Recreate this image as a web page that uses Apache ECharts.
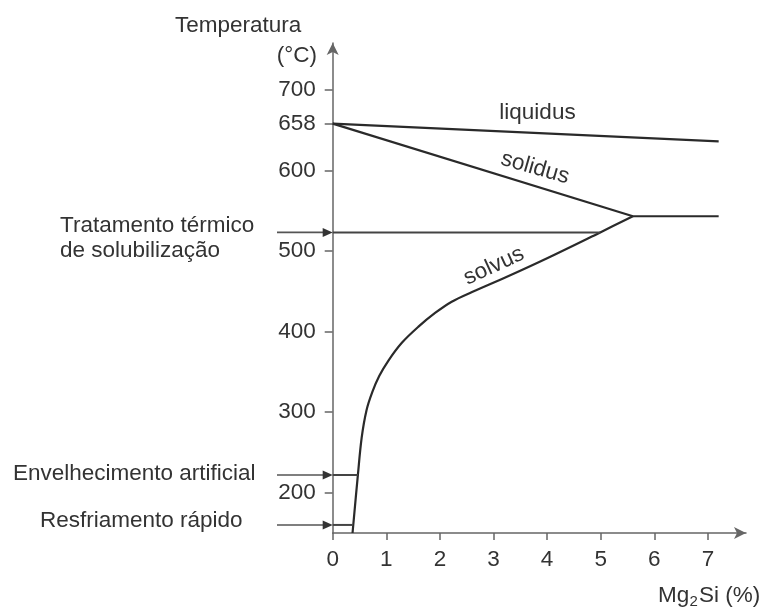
<!DOCTYPE html>
<html>
<head>
<meta charset="utf-8">
<script src="https://cdn.jsdelivr.net/npm/echarts@6/dist/echarts.min.js"></script>
<style>html,body{margin:0;padding:0;background:#fff}#c{width:767px;height:610px}</style>
</head>
<body>
<div id="c"></div>
<script>
// ---- data ----
const xTicks = [0, 1, 2, 3, 4, 5, 6, 7];
const yTicks = [200, 300, 400, 500, 600, 658, 700];
const liquidus = [[0, 658], [7.2, 636]];
const solidus = [[0, 658], [5.6, 543]];
const eutectic = [[5.6, 543], [7.2, 543]];
const solvus = [[0.37, 150], [0.47, 222], [0.54, 268], [0.63, 302], [0.74, 325], [0.87, 345],
  [1.04, 364], [1.29, 386], [1.6, 406], [1.91, 423], [2.22, 437], [2.6, 449], [3.25, 468],
  [4.0, 491], [4.99, 523], [5.6, 543]];
const solTreatT = 523, agingT = 222, quenchT = 160;
const solTreat = [[0, solTreatT], [4.99, solTreatT]];
const aging = [[0, agingT], [0.47, agingT]];
const quench = [[0, quenchT], [0.37, quenchT]];
const lineLabels = ['liquidus', 'solidus', 'solvus'];
const sideLabels = ['Tratamento térmico', 'de solubilização', 'Envelhecimento artificial', 'Resfriamento rápido'];

const FONT = '"Liberation Sans", Arial, Helvetica, sans-serif';
const FS = 22.5;
const TXT = '#333';
const AX = '#666';
const LN = '#2a2a2a';

const chart = echarts.init(document.getElementById('c'), null, {renderer: 'canvas'});
const axisCommon = {
  type: 'value',
  splitLine: {show: false},
  axisLine: {show: true, symbol: ['none', 'arrow'], symbolSize: [9, 12], lineStyle: {color: AX, width: 1.5}},
  axisTick: {show: true, length: 8, lineStyle: {color: AX, width: 1.5}},
  axisLabel: {color: TXT, fontSize: FS, fontFamily: FONT}
};
function ser(data, opts) {
  return Object.assign({type: 'line', data: data, symbol: 'none', silent: true,
    lineStyle: {color: LN, width: 2.2}}, opts || {});
}
chart.setOption({
  animation: false,
  grid: {left: 332.7, top: 43, right: 767 - 746, bottom: 610 - 533, containLabel: false, outerBoundsMode: 'none'},
  xAxis: Object.assign({}, axisCommon, {
    min: 0, max: 7.71,
    axisTick: Object.assign({}, axisCommon.axisTick, {customValues: xTicks, length: 7}),
    axisLabel: Object.assign({}, axisCommon.axisLabel, {customValues: xTicks, margin: 15})
  }),
  yAxis: Object.assign({}, axisCommon, {
    min: 150, max: 758,
    axisTick: Object.assign({}, axisCommon.axisTick, {customValues: yTicks}),
    axisLabel: Object.assign({}, axisCommon.axisLabel, {customValues: yTicks, margin: 17})
  }),
  series: [
    ser(liquidus),
    ser(solidus),
    ser(eutectic),
    ser(solvus, {smooth: 0.35}),
    ser(solTreat, {lineStyle: {color: '#444', width: 2}}),
    ser(aging, {lineStyle: {color: '#444', width: 2}}),
    ser(quench, {lineStyle: {color: '#444', width: 2}})
  ]
});

// annotations
const px = (x, y) => chart.convertToPixel({gridIndex: 0}, [x, y]);
const els = [];
function txt(x, y, s, align, rot) {
  els.push({type: 'text', x: x, y: y, rotation: rot || 0, silent: true,
    style: {text: s, fill: TXT, font: FS + 'px ' + FONT, align: align || 'left', verticalAlign: 'middle'}});
}
function arrow(T) {
  const p = px(0, T);
  els.push({type: 'line', silent: true, shape: {x1: 277, y1: p[1], x2: p[0] - 6, y2: p[1]},
    style: {stroke: '#555', lineWidth: 1.6}});
  els.push({type: 'polygon', silent: true, shape: {points: [[p[0] - 10, p[1] - 4.5], [p[0], p[1]], [p[0] - 10, p[1] + 4.5]]},
    style: {fill: '#333'}});
}
arrow(solTreatT); arrow(agingT); arrow(quenchT);
txt(175, 25.5, 'Temperatura');
txt(317, 56, '(°C)', 'right');
txt(60, 225.5, sideLabels[0]);
txt(60, 251, sideLabels[1]);
txt(13, 474, sideLabels[2]);
txt(40, 520.5, sideLabels[3]);
// curve labels
txt(537.5, 113, lineLabels[0], 'center');
txt(535, 168, lineLabels[1], 'center', -0.28);
txt(494, 266, lineLabels[2], 'center', 0.43);
// x-axis name with subscript
els.push({type: 'text', x: 658, y: 596, silent: true, style: {text: 'Mg', fill: TXT, font: FS + 'px ' + FONT, verticalAlign: 'middle'}});
els.push({type: 'text', x: 689.5, y: 602, silent: true, style: {text: '2', fill: TXT, font: '15px ' + FONT, verticalAlign: 'middle'}});
els.push({type: 'text', x: 699, y: 596, silent: true, style: {text: 'Si (%)', fill: TXT, font: FS + 'px ' + FONT, verticalAlign: 'middle'}});
chart.setOption({graphic: {elements: els}});
</script>
</body>
</html>
